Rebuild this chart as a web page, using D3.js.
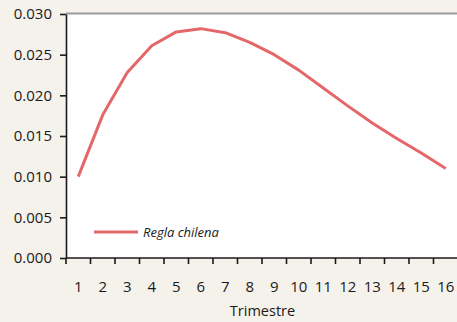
<!DOCTYPE html>
<html>
<head>
<meta charset="utf-8">
<title>Regla chilena</title>
<script src="https://d3js.org/d3.v7.min.js"></script>
<style>
  body { margin: 0; background: #f5f2ec; }
  svg { display: block; }
  text { font-family: "Open Sans", sans-serif; fill: #1a1a1a; }
</style>
</head>
<body>
<script>

// data
var trimestres = [1, 2, 3, 4, 5, 6, 7, 8, 9, 10, 11, 12, 13, 14, 15, 16];
var reglaChilena = [0.0100, 0.0176, 0.0228, 0.0261, 0.0278, 0.0282, 0.0277, 0.0265,
                    0.0250, 0.0231, 0.0209, 0.0187, 0.0166, 0.0147, 0.0129, 0.0110];
var yTicks = [0, 0.005, 0.010, 0.015, 0.020, 0.025, 0.030];
var serieName = "Regla chilena";
var xTitle = "Trimestre";

var width = 457, height = 322;
var margin = { top: 14, right: 0, bottom: 64, left: 66 };

var svg = d3.select("body").append("svg")
    .attr("width", width)
    .attr("height", height);

svg.append("rect")
    .attr("width", width)
    .attr("height", height)
    .attr("fill", "#f5f2ec");

var x = d3.scaleBand()
    .domain(trimestres)
    .range([margin.left, width + 1]);

var y = d3.scaleLinear()
    .domain([0, 0.03])
    .range([height - margin.bottom, margin.top]);

// plot background
svg.append("rect")
    .attr("x", margin.left)
    .attr("y", margin.top)
    .attr("width", width - margin.left)
    .attr("height", y(0) - margin.top)
    .attr("fill", "#ffffff");

// gray top border
svg.append("line")
    .attr("x1", margin.left).attr("x2", width)
    .attr("y1", margin.top - 0.5).attr("y2", margin.top - 0.5)
    .attr("stroke", "#9a9a9a")
    .attr("stroke-width", 2);

// y axis
var yAxis = svg.append("g")
    .attr("transform", "translate(" + margin.left + ",0)")
    .call(d3.axisLeft(y).tickValues(yTicks).tickFormat(d3.format(".3f"))
        .tickSize(6).tickSizeOuter(0).tickPadding(8));
yAxis.select(".domain").attr("stroke", "#1a1a1a").attr("stroke-width", 1.6);
yAxis.selectAll(".tick line").attr("stroke", "#1a1a1a").attr("stroke-width", 1.6);
yAxis.selectAll(".tick text")
    .style("font-family", "'Open Sans', sans-serif")
    .style("font-size", "15px")
    .attr("fill", "#1a1a1a");

// x axis: ticks on the band edges, labels in the band centres
var xAxisG = svg.append("g")
    .attr("transform", "translate(0," + y(0) + ")");
xAxisG.append("line")
    .attr("x1", margin.left).attr("x2", width)
    .attr("stroke", "#1a1a1a").attr("stroke-width", 1.6);
xAxisG.selectAll("line.tk")
    .data(trimestres)
    .enter().append("line")
    .attr("class", "tk")
    .attr("x1", function (d) { return x(d); })
    .attr("x2", function (d) { return x(d); })
    .attr("y1", 0).attr("y2", 6)
    .attr("stroke", "#1a1a1a").attr("stroke-width", 1.6);
xAxisG.selectAll("text")
    .data(trimestres)
    .enter().append("text")
    .attr("x", function (d) { return x(d) + x.bandwidth() / 2; })
    .attr("y", 34)
    .attr("text-anchor", "middle")
    .style("font-size", "15px")
    .text(function (d) { return d; });

svg.append("text")
    .attr("x", (margin.left + width) / 2 + 1)
    .attr("y", 316)
    .attr("text-anchor", "middle")
    .style("font-size", "14.5px")
    .text(xTitle);

// the line
var line = d3.line()
    .x(function (d, i) { return x(trimestres[i]) + x.bandwidth() / 2; })
    .y(function (d) { return y(d); });

svg.append("path")
    .datum(reglaChilena)
    .attr("d", line)
    .attr("fill", "none")
    .attr("stroke", "#e4676a")
    .attr("stroke-width", 3)
    .attr("stroke-linejoin", "round");

// legend
var legend = svg.append("g").attr("transform", "translate(94,232)");
legend.append("line")
    .attr("x1", 0).attr("x2", 44)
    .attr("stroke", "#e4676a").attr("stroke-width", 3);
legend.append("text")
    .attr("x", 49)
    .attr("y", 5)
    .style("font-size", "13px")
    .style("font-style", "italic")
    .text(serieName);

</script>
</body>
</html>
